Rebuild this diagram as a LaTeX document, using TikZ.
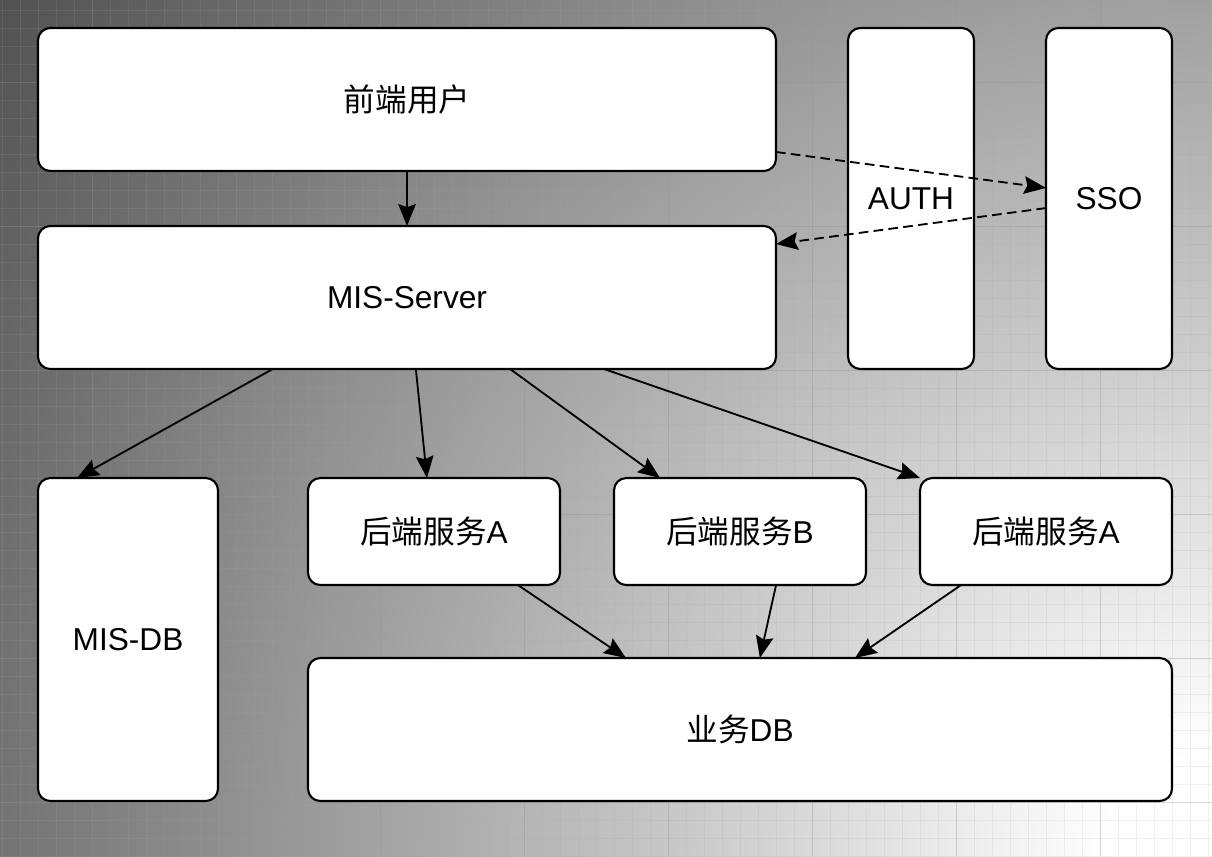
\documentclass[tikz,border=0pt]{standalone}
\usepackage{fontspec}
\setmainfont{Liberation Sans}
\newfontfamily\cjk{Noto Sans CJK SC}
\usetikzlibrary{arrows.meta,calc}
\def\upx{0.02cm}
\pgfdeclareradialshading{bgshade}{\pgfpointorigin}{color(0bp)=(white); color(1.7bp)=(white); color(25bp)=(black!69); color(50bp)=(black!69)}
\tikzset{
  box/.style={draw, line width=1.2pt, fill=white, rounded corners=7pt, inner sep=0pt, outer sep=0pt,
    font=\fontsize{18}{21}\selectfont},
  arr/.style={line width=1.05pt, -{Stealth[length=12.5pt,width=10pt,inset=1.8pt]}},
  dsh/.style={dash pattern=on 5.5pt off 3pt},
  minorgrid/.style={line width=0.5pt, draw=black!35, draw opacity=0.16},
  majorgrid/.style={line width=0.5pt, draw=black!45, draw opacity=0.26},
}
\begin{document}
\begin{tikzpicture}[x=0.02cm, y=-0.02cm]
\useasboundingbox (0,0) rectangle (1212,856);
\begin{scope}
  \clip (0,0) rectangle (1212,856);
  \shade[shading=bgshade] (1212,856) circle (1500);
  \foreach \i in {0,...,67} \draw[minorgrid] ({2.7+18*\i},0) -- ({2.7+18*\i},856);
  \foreach \j in {0,...,47} \draw[minorgrid] (0,{10.3+18*\j}) -- (1212,{10.3+18*\j});
  \foreach \i in {0,...,7} \draw[majorgrid] ({92.7+144*\i},0) -- ({92.7+144*\i},856);
  \foreach \j in {0,...,5} \draw[majorgrid] (0,{82.3+144*\j}) -- (1212,{82.3+144*\j});
\end{scope}

\node[box, minimum width={738*\upx}, minimum height={143*\upx}] (fe) at (407,99.5) {\cjk 前端用户};
\node[box, minimum width={738*\upx}, minimum height={143*\upx}] (ms) at (407,297.5) {MIS-Server};
\node[box, minimum width={126*\upx}, minimum height={341*\upx}] (auth) at (911,198.5) {AUTH};
\node[box, minimum width={126*\upx}, minimum height={341*\upx}] (sso) at (1109,198.5) {SSO};
\node[box, minimum width={180*\upx}, minimum height={323*\upx}] (misdb) at (128,639.5) {MIS-DB};
\node[box, minimum width={252*\upx}, minimum height={107*\upx}] (a1) at (434,531.5) {{\cjk 后端服务}A};
\node[box, minimum width={252*\upx}, minimum height={107*\upx}] (b) at (740,531.5) {{\cjk 后端服务}B};
\node[box, minimum width={252*\upx}, minimum height={107*\upx}] (a2) at (1046,531.5) {{\cjk 后端服务}A};
\node[box, minimum width={864*\upx}, minimum height={143*\upx}] (db) at (740,729.5) {{\cjk 业务}DB};

\draw[arr] (fe.south) -- (ms.north);
\draw[arr,dsh] ($(fe.north east)!0.867!(fe.south east)$) -- ($(sso.north west)!0.469!(sso.south west)$);
\draw[arr,dsh] ($(sso.north west)!0.528!(sso.south west)$) -- ($(ms.north east)!0.126!(ms.south east)$);
\draw[arr] ($(ms.south west)!0.318!(ms.south east)$) -- ($(misdb.north west)!0.217!(misdb.north east)$);
\draw[arr] ($(ms.south west)!0.512!(ms.south east)$) -- ($(a1.north west)!0.472!(a1.north east)$);
\draw[arr] ($(ms.south west)!0.6396!(ms.south east)$) -- ($(b.north west)!0.1825!(b.north east)$);
\draw[arr] ($(ms.south west)!0.767!(ms.south east)$) -- (a2.north west);
\draw[arr] ($(a1.south west)!0.833!(a1.south east)$) -- ($(db.north west)!0.368!(db.north east)$);
\draw[arr] ($(b.south west)!0.643!(b.south east)$) -- ($(db.north west)!0.523!(db.north east)$);
\draw[arr] ($(a2.south west)!0.163!(a2.south east)$) -- ($(db.north west)!0.633!(db.north east)$);
\end{tikzpicture}
\end{document}
